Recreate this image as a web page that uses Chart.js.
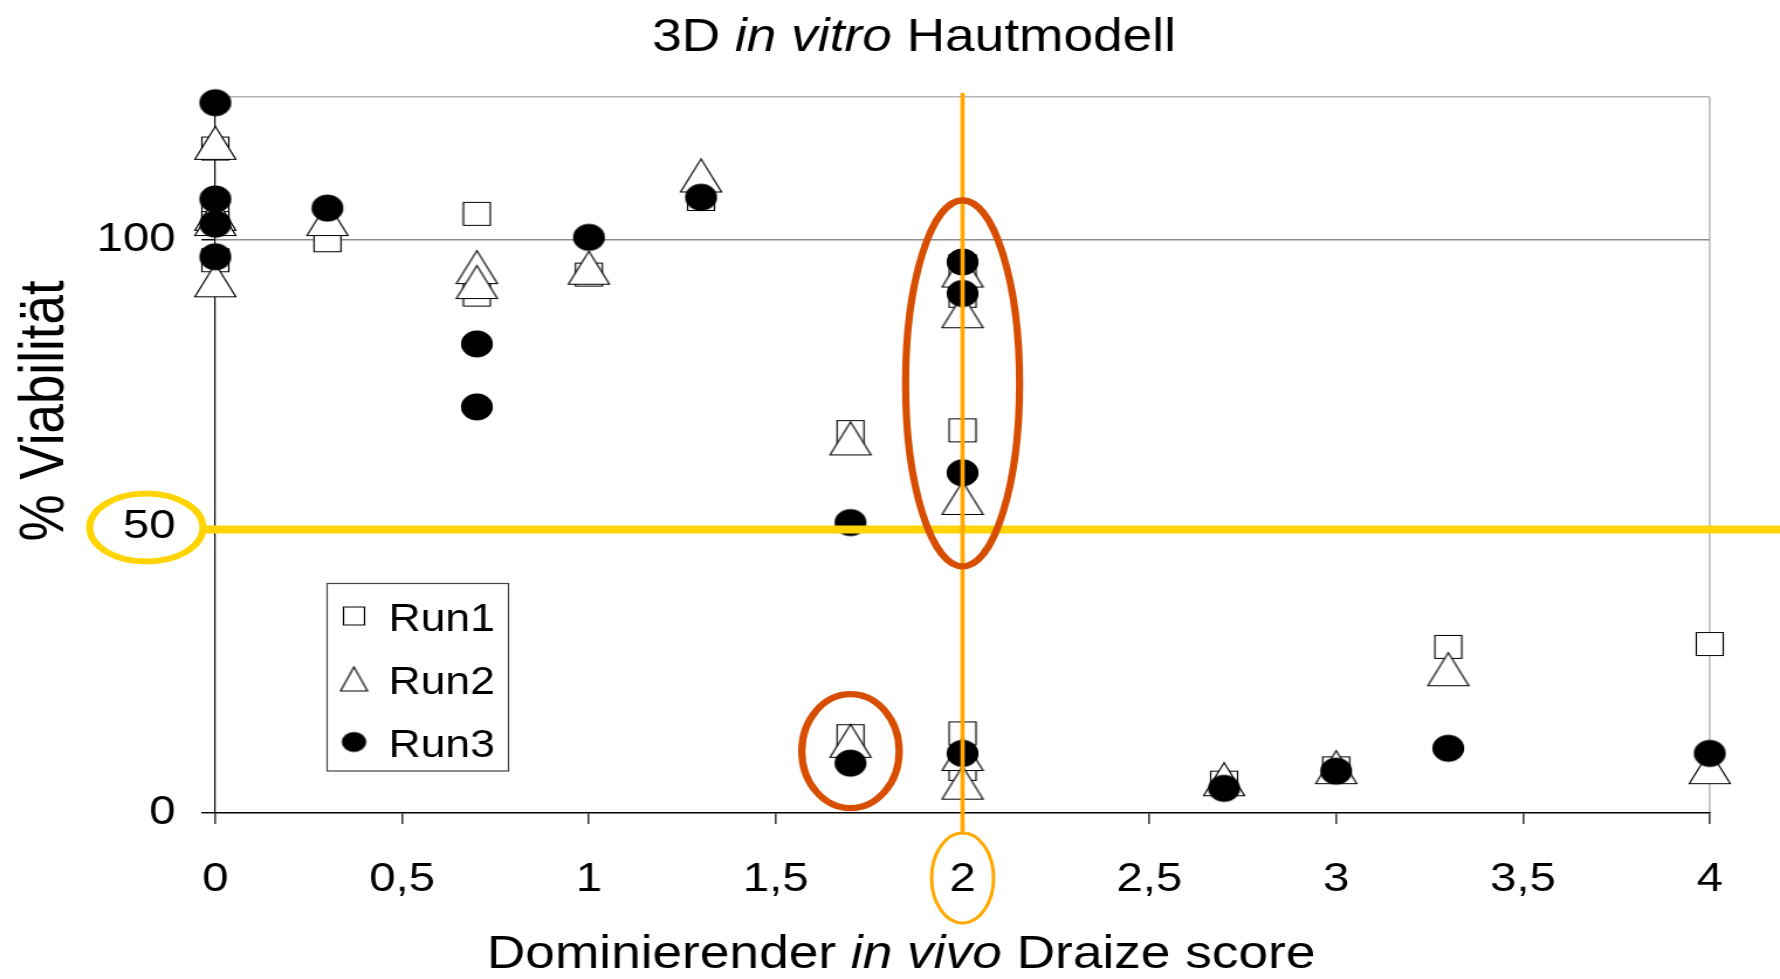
<!DOCTYPE html>
<html>
<head>
<meta charset="utf-8">
<title>3D in vitro Hautmodell</title>
<script src="https://cdn.jsdelivr.net/npm/chart.js@4.4.1/dist/chart.umd.min.js"></script>
<style>
    html, body { margin: 0; padding: 0; background: #fff; }
    /* the source picture is stretched sideways, so the canvas is too */
    #chart { display: block; width: 1780px !important; height: 979px !important; }
</style>
</head>
<body>
<canvas id="chart" width="1521" height="979" style="width: 1780px; height: 979px;"></canvas>
<script>
// Draize score (x) and % viability (y) per run
const run1Score = [0, 0, 0, 0, 0.3, 0.7, 0.7, 1, 1.3, 1.7, 1.7, 2, 2, 2, 2, 2, 2.7, 3, 3.3, 4];
const run1Viab  = [116, 105.5, 103, 96.5, 100, 104.6, 90.5, 94, 107.2, 66.5, 13.4, 95.5, 90.3, 66.8, 13.9, 7.7, 5.3, 7.8, 29, 29.5];

const run2Score = [0, 0, 0, 0, 0.3, 0.7, 0.7, 1, 1.3, 1.7, 1.7, 2, 2, 2, 2, 2, 2.7, 3, 3.3, 4];
const run2Viab  = [117, 104.6, 103.7, 93, 103.7, 95.3, 92.7, 95.2, 111.3, 65.4, 12.6, 94.7, 87.6, 55, 10.3, 5.3, 5.9, 8.0, 25.1, 8.0];

const run3Score = [0, 0, 0, 0, 0.3, 0.7, 0.7, 1, 1.3, 1.7, 1.7, 2, 2, 2, 2, 2.7, 3, 3.3, 4];
const run3Viab  = [124, 107.2, 102.8, 97.1, 105.6, 81.9, 70.9, 100.5, 107.5, 50.7, 8.7, 96.2, 90.7, 59.4, 10.4, 4.3, 7.3, 11.3, 10.4];

const runNames = ["Run1", "Run2", "Run3"];
const yTickValues = [0, 50, 100, 125];

// hand-drawn markup
const cutoffViability = 50;
const cutoffScore = 2;
const bigRingCenter = [2, 75];
const smallRingCenter = [1.7, 10.8];

const FONT = '"Liberation Sans", Arial, sans-serif';

function makeMarker(kind, w, h) {
    const c = document.createElement("canvas");
    c.width = Math.ceil(w) + 3;
    c.height = Math.ceil(h) + 3;
    const g = c.getContext("2d");
    const cx = c.width / 2, cy = c.height / 2;
    g.lineWidth = 1.2;
    g.strokeStyle = "#000";
    g.fillStyle = kind === "circle" ? "#000" : "#fff";
    g.beginPath();
    if (kind === "square") {
        g.rect(cx - w / 2, cy - h / 2, w, h);
    } else if (kind === "triangle") {
        g.moveTo(cx, cy - h / 2);
        g.lineTo(cx + w / 2, cy + h / 2);
        g.lineTo(cx - w / 2, cy + h / 2);
        g.closePath();
    } else {
        g.ellipse(cx, cy, w / 2, h / 2, 0, 0, Math.PI * 2);
    }
    g.fill();
    if (kind !== "circle") g.stroke();
    return c;
}

const markers = [makeMarker("square", 23, 23), makeMarker("triangle", 35, 33), makeMarker("circle", 27.3, 27)];
const legendMarkers = [makeMarker("square", 18, 18), makeMarker("triangle", 23, 24), makeMarker("circle", 21, 20)];

function toPoints(xs, ys) {
    return xs.map((v, i) => ({ x: v, y: ys[i] }));
}

// draws a line of text made of plain and italic pieces, centred on cx
function drawMixed(ctx, parts, cx, baseline, size) {
    let total = 0;
    parts.forEach(p => {
        ctx.font = (p[1] ? "italic " : "") + size + "px " + FONT;
        total += ctx.measureText(p[0]).width;
    });
    let x = cx - total / 2;
    parts.forEach(p => {
        ctx.font = (p[1] ? "italic " : "") + size + "px " + FONT;
        ctx.fillText(p[0], x, baseline);
        x += ctx.measureText(p[0]).width;
    });
}

const textPlugin = {
    id: "texts",
    afterDraw(chart) {
        const ctx = chart.ctx;
        ctx.save();
        ctx.fillStyle = "#000";
        ctx.textAlign = "left";
        ctx.textBaseline = "alphabetic";
        drawMixed(ctx, [["3D ", false], ["in vitro", true], [" Hautmodell", false]], 781, 51, 45.5);
        drawMixed(ctx, [["Dominierender ", false], ["in vivo", true], [" Draize score", false]], 770, 968, 45.5);

        ctx.translate(54, 411);
        ctx.rotate(-Math.PI / 2);
        ctx.textAlign = "center";
        ctx.font = "53px " + FONT;
        ctx.fillText("% Viabilität", 0, 0);
        ctx.restore();
    }
};

const legendPlugin = {
    id: "boxLegend",
    afterDatasetsDraw(chart) {
        const ctx = chart.ctx;
        const left = chart.chartArea.left + 95.5;
        const top = 583.5;
        ctx.save();
        ctx.fillStyle = "#fff";
        ctx.strokeStyle = "#444";
        ctx.lineWidth = 1.2;
        ctx.fillRect(left, top, 155, 187.5);
        ctx.strokeRect(left, top, 155, 187.5);
        ctx.fillStyle = "#000";
        ctx.font = "38px " + FONT;
        ctx.textBaseline = "alphabetic";
        runNames.forEach((name, i) => {
            const base = 631 + i * 63;
            const m = legendMarkers[i];
            ctx.drawImage(m, left + 23 - m.width / 2, base - 15 - m.height / 2);
            ctx.fillText(name, left + 52.5, base);
        });
        ctx.restore();
    }
};

function ring(ctx, cx, cy, rx, ry, color, width) {
    ctx.beginPath();
    ctx.ellipse(cx, cy, rx, ry, 0, 0, Math.PI * 2);
    ctx.strokeStyle = color;
    ctx.lineWidth = width;
    ctx.stroke();
}

const markupPlugin = {
    id: "markup",
    afterDatasetsDraw(chart) {
        const ctx = chart.ctx;
        const { x, y } = chart.scales;
        ctx.save();

        // yellow 50 % cut-off and the ring round its label
        const y50 = y.getPixelForValue(cutoffViability);
        const x0 = x.getPixelForValue(0);
        ring(ctx, x0 - 59, y50 + 1, 48.4, 34, "#FFD400", 6);
        ctx.beginPath();
        ctx.moveTo(x0 - 10.5, y50 + 3);
        ctx.lineTo(chart.width, y50 + 3);
        ctx.strokeStyle = "#FFD400";
        ctx.lineWidth = 8;
        ctx.stroke();

        // orange line at score 2 and the ring round its tick label
        const x2 = x.getPixelForValue(cutoffScore);
        ring(ctx, x2, 878, 26.5, 45, "#FFA800", 3);
        ctx.beginPath();
        ctx.moveTo(x2, chart.chartArea.top - 4);
        ctx.lineTo(x2, 833);
        ctx.strokeStyle = "#FFA800";
        ctx.lineWidth = 3.7;
        ctx.stroke();

        // red rings
        ring(ctx, x.getPixelForValue(bigRingCenter[0]), y.getPixelForValue(bigRingCenter[1]), 48.7, 183, "#D84E00", 6.2);
        ring(ctx, x.getPixelForValue(smallRingCenter[0]), y.getPixelForValue(smallRingCenter[1]), 41.6, 57, "#D84E00", 6.2);
        ctx.restore();
    }
};

const datasets = [
    [run1Score, run1Viab],
    [run2Score, run2Viab],
    [run3Score, run3Viab]
].map((d, i) => ({
    label: runNames[i],
    data: toPoints(d[0], d[1]),
    pointStyle: markers[i],
    pointRadius: 14,
    showLine: false,
    clip: false,
    order: 3 - i
}));

new Chart(document.getElementById("chart"), {
    type: "scatter",
    data: { datasets: datasets },
    options: {
        responsive: false,
        animation: false,
        devicePixelRatio: 1,
        layout: { padding: { top: 97, right: 60, left: 0, bottom: 0 } },
        plugins: {
            legend: { display: false },
            tooltip: { enabled: false },
            title: { display: false }
        },
        scales: {
            x: {
                type: "linear",
                min: 0,
                max: 4,
                afterFit: s => { s.height = 166; },
                ticks: {
                    stepSize: 0.5,
                    autoSkip: false,
                    maxRotation: 0,
                    padding: 32,
                    color: "#000",
                    font: { family: FONT, size: 40.5 },
                    callback: v => String(v).replace(".", ",")
                },
                grid: {
                    color: c => (c.tick && c.tick.value === 4) ? "#c0c0c0" : "rgba(0,0,0,0)",
                    lineWidth: 1.7,
                    tickColor: "#000",
                    tickWidth: 1.2,
                    tickLength: 11
                },
                border: { color: "#000", width: 1.4 }
            },
            y: {
                type: "linear",
                min: 0,
                max: 125,
                afterFit: s => { s.width = 184; },
                afterBuildTicks: s => { s.ticks = yTickValues.map(v => ({ value: v })); },
                ticks: {
                    padding: 22,
                    color: "#000",
                    font: { family: FONT, size: 40.5 },
                    callback: v => v === 125 ? "" : v
                },
                grid: {
                    color: c => {
                        if (!c.tick || c.tick.value === 0) return "rgba(0,0,0,0)";
                        return c.tick.value === 125 ? "#b4b4b4" : "#8c8c8c";
                    },
                    lineWidth: 1.5,
                    tickColor: c => (c.tick && c.tick.value === 125) ? "rgba(0,0,0,0)" : "#000",
                    tickWidth: 1.4,
                    tickLength: 12
                },
                border: { color: "#000", width: 1.2 }
            }
        }
    },
    plugins: [legendPlugin, markupPlugin, textPlugin]
});
</script>
</body>
</html>
